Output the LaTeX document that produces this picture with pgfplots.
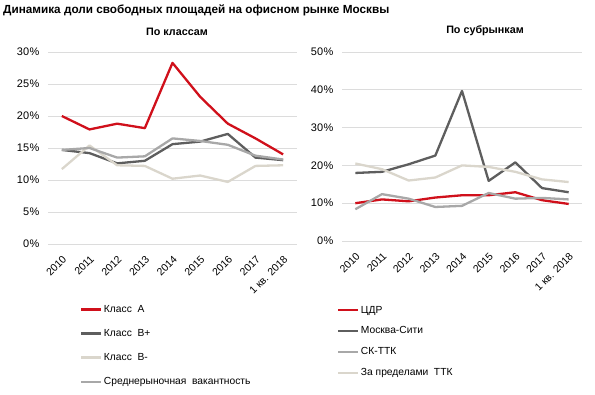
\documentclass[border=0pt]{standalone}
\usepackage{pgfplots}
\pgfplotsset{compat=1.18}
\usepackage{fontspec}
\setmainfont{Liberation Sans}
\definecolor{cred}{HTML}{D0101B}
\definecolor{cdark}{HTML}{5E5E5E}
\definecolor{cmid}{HTML}{A8A8A8}
\definecolor{clight}{HTML}{DAD6CC}
\definecolor{cgrid}{HTML}{DCDCDC}
\pgfplotsset{
 mystyle/.style={
  scale only axis,
  axis line style={draw=none},
  tick style={draw=none},
  ymajorgrids, grid style={cgrid, line width=0.8bp},
  xmin=-0.5, xmax=8.5,
  xtick={0,...,8},
  xticklabels={2010,2011,2012,2013,2014,2015,2016,2017,1 кв. 2018},
  xticklabel style={rotate=45, anchor=north east, font=\fontsize{10.5}{11}\selectfont, inner sep=1bp, yshift=-6.4bp, xshift=-6.4bp},
  yticklabel style={font=\fontsize{11}{12}\selectfont, /pgf/number format/assume math mode=true, xshift=-5bp},
  yticklabel={\pgfmathprintnumber{\tick}\hspace{0.6bp}\%},
  every axis plot/.append style={line width=2.3bp, mark=none, line join=round},
  legend image code/.code={\draw[##1] (0bp,0bp) -- (20bp,0bp);},
  legend cell align=left,
 }
}
\begin{document}
\begin{tikzpicture}
\useasboundingbox (0,0) rectangle (595bp,395bp);
\node[anchor=west, font=\bfseries\fontsize{11.8}{13}\selectfont, inner sep=0] at (3bp,385bp) {Динамика доли свободных площадей на офисном рынке Москвы};
\node[font=\bfseries\fontsize{10.8}{12}\selectfont, inner sep=0] at (177bp,363bp) {По классам};
\node[font=\bfseries\fontsize{10.8}{12}\selectfont, inner sep=0] at (485bp,364bp) {По субрынкам};
\begin{axis}[mystyle, at={(48bp,151bp)}, anchor=south west, width=249bp, height=192bp,
  ymin=0, ymax=30, ytick={0,5,...,30},
  legend style={at={(0.1285,-0.31)}, anchor=north west, draw=none, fill=none, inner sep=0pt,
    font=\fontsize{10.3}{11}\selectfont, row sep=12.5bp, nodes={inner sep=1.5bp}},
]
\addplot[cred] coordinates {(0,20.0) (1,17.9) (2,18.8) (3,18.1) (4,28.3) (5,23.0) (6,18.8) (7,16.5) (8,14.0)};
\addplot[cdark] coordinates {(0,14.7) (1,14.2) (2,12.6) (3,13.0) (4,15.6) (5,16.0) (6,17.2) (7,13.5) (8,13.1)};
\addplot[clight] coordinates {(0,11.7) (1,15.4) (2,12.3) (3,12.2) (4,10.2) (5,10.7) (6,9.7) (7,12.2) (8,12.3)};
\addplot[cmid] coordinates {(0,14.7) (1,15.0) (2,13.5) (3,13.7) (4,16.5) (5,16.1) (6,15.5) (7,13.8) (8,13.2)};
\legend{Класс\ \ А, Класс\ \ В+, Класс\ \ В-, Среднерыночная\ \ вакантность}
\end{axis}
\begin{axis}[mystyle, at={(342bp,154bp)}, anchor=south west, width=240bp, height=189bp,
  ymin=0, ymax=50, ytick={0,10,...,50},
  legend style={at={(-0.021,-0.335)}, anchor=north west, draw=none, fill=none, inner sep=0pt,
    font=\fontsize{10.3}{11}\selectfont, row sep=9.2bp, nodes={inner sep=1.5bp}},
]
\addplot[cred] coordinates {(0,10.0) (1,11.0) (2,10.5) (3,11.5) (4,12.1) (5,12.1) (6,12.9) (7,10.8) (8,9.8)};
\addplot[cdark] coordinates {(0,18.0) (1,18.3) (2,20.3) (3,22.6) (4,39.7) (5,15.9) (6,20.8) (7,14.0) (8,12.9)};
\addplot[cmid] coordinates {(0,8.4) (1,12.4) (2,11.2) (3,9.0) (4,9.3) (5,12.7) (6,11.2) (7,11.4) (8,11.0)};
\addplot[clight] coordinates {(0,20.5) (1,19.0) (2,16.0) (3,16.8) (4,20.0) (5,19.6) (6,18.3) (7,16.3) (8,15.6)};
\legend{ЦДР, Москва-Сити, СК-ТТК, За пределами\ \ ТТК}
\end{axis}
\end{tikzpicture}
\end{document}
